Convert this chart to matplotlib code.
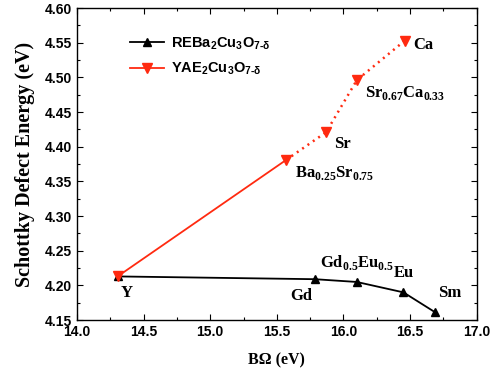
import matplotlib
matplotlib.use("Agg")
import matplotlib.pyplot as plt
from matplotlib.ticker import MultipleLocator

# REBa2Cu3O7-d series
re_names = ["Y", "Gd", "Gd_{0.5}Eu_{0.5}", "Eu", "Sm"]
re_bomega = [14.305, 15.785, 16.10, 16.45, 16.69]
re_energy = [4.213, 4.209, 4.205, 4.190, 4.161]

# YAE2Cu3O7-d series
ae_names = ["Y", "Ba_{0.25}Sr_{0.75}", "Sr", "Sr_{0.67}Ca_{0.33}", "Ca"]
ae_bomega = [14.305, 15.57, 15.87, 16.10, 16.46]
ae_energy = [4.213, 4.381, 4.421, 4.496, 4.553]

legend_names = ["REBa_{2}Cu_{3}O_{7\u2010δ}", "YAE_{2}Cu_{3}O_{7\u2010δ}"]

red = "#ff2a10"
serif = "Liberation Serif"
sans = "Liberation Sans"

plt.rcParams["mathtext.fontset"] = "custom"
plt.rcParams["mathtext.bf"] = "Liberation Serif:bold"
plt.rcParams["mathtext.sf"] = "Liberation Sans:bold"
plt.rcParams["mathtext.rm"] = "Liberation Sans:bold"


def chem(s, cmd):
    """Turn 'Gd_{0.5}Eu_{0.5}' into mathtext using one font command."""
    if "_" not in s:
        return s
    res = ""
    i = 0
    while i < len(s):
        if s[i] == "_":
            j = s.index("}", i)
            res += "_{" + cmd + "{" + s[i + 2:j] + "}}"
            i = j + 1
        else:
            j = s.find("_", i)
            j = len(s) if j < 0 else j
            res += cmd + "{" + s[i:j] + "}"
            i = j
    return "$" + res + "$"


fig = plt.figure(figsize=(4.9, 3.82), dpi=100)
ax = fig.add_axes([0.157, 0.162, 0.816, 0.817])

ax.plot(re_bomega, re_energy, color="black", lw=1.3, marker="^", ms=6,
        label=chem(legend_names[0], r"\mathsf"))
# solid part then dotted part of the red curve
ax.plot(ae_bomega[:2], ae_energy[:2], color=red, lw=1.3)
ax.plot(ae_bomega[1:], ae_energy[1:], color=red, lw=1.8, ls=(0, (0.8, 1.8)))
ax.plot(ae_bomega, ae_energy, color=red, lw=0, marker="v", ms=7.5)
# legend proxy
ax.plot([], [], color=red, lw=1.3, marker="v", ms=7.5,
        label=chem(legend_names[1], r"\mathsf"))

tfont = dict(family=serif, weight="bold", size=12)
# label offsets in points (text position, not data)
re_offsets = [(2, -6, "left", "top"), (-2, -6, "right", "top"),
              (0, 7, "center", "bottom"), (0, 8, "center", "bottom"),
              (2, 8, "left", "bottom")]
for name, x, y, (dx, dy, ha, va) in zip(re_names, re_bomega, re_energy, re_offsets):
    ax.annotate(chem(name, r"\mathbf"), (x, y), xytext=(dx, dy),
                textcoords="offset points", ha=ha, va=va, **tfont)
ae_offsets = [None, (6, -3, "left", "top"), (6, -3, "left", "top"),
              (6, -3, "left", "top"), (6, -3, "left", "center")]
for name, x, y, off in zip(ae_names, ae_bomega, ae_energy, ae_offsets):
    if off is None:
        continue
    dx, dy, ha, va = off
    ax.annotate(chem(name, r"\mathbf"), (x, y), xytext=(dx, dy),
                textcoords="offset points", ha=ha, va=va, **tfont)

ax.set_xlim(14.0, 17.0)
ax.set_ylim(4.15, 4.60)
ax.xaxis.set_major_locator(MultipleLocator(0.5))
ax.xaxis.set_minor_locator(MultipleLocator(0.25))
ax.yaxis.set_major_locator(MultipleLocator(0.05))
ax.yaxis.set_minor_locator(MultipleLocator(0.025))
ax.tick_params(which="both", direction="in", top=True, right=True, width=0.8)
ax.tick_params(which="major", length=4)
ax.tick_params(which="minor", length=2.5)
ax.set_xticklabels([f"{v:.1f}" for v in ax.get_xticks()])
ax.set_yticklabels([f"{v:.2f}" for v in ax.get_yticks()])
for lab in ax.get_xticklabels() + ax.get_yticklabels():
    lab.set_fontfamily(sans)
    lab.set_fontweight("bold")
    lab.set_fontsize(10)
for s in ax.spines.values():
    s.set_linewidth(1.0)

ax.set_xlabel("B\u03a9 (eV)", family=serif, weight="bold", size=11.5, labelpad=10)
ax.set_ylabel("Schottky Defect Energy (eV)", family=serif, weight="bold",
              size=14.5, labelpad=7)

ax.legend(loc="upper left", bbox_to_anchor=(0.1, 0.955), frameon=False,
          handlelength=2.3, handletextpad=0.5, labelspacing=0.6,
          prop=dict(family=sans, weight="bold", size=10.5))

fig.savefig("out.png", dpi=100)
